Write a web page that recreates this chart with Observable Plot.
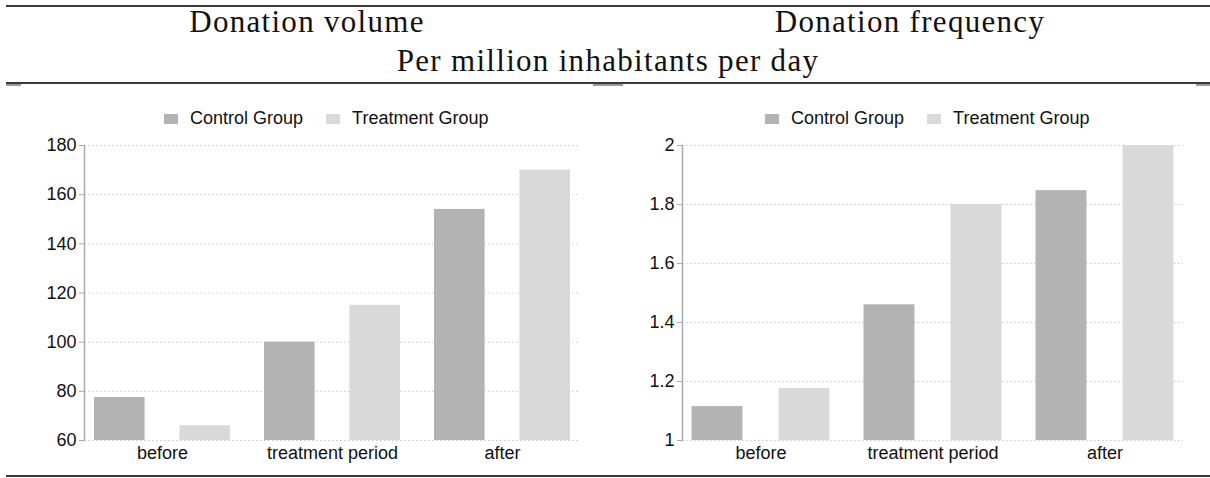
<!DOCTYPE html>
<html><head><meta charset="utf-8">
<script src="https://cdn.jsdelivr.net/npm/d3@7"></script>
<script src="https://cdn.jsdelivr.net/npm/@observablehq/plot@0.6"></script>
<style>
body{margin:0;background:#fff;width:1210px;height:478px;position:relative;overflow:hidden;font-family:"Liberation Sans",Arial,sans-serif;}
.rule{position:absolute;background:#3a3a3a;height:2px;left:6px;right:0}
.trim{position:absolute;background:#9a9a9a;height:2px;top:84px}
.title{position:absolute;font-family:"Liberation Serif","Times New Roman",serif;font-size:31px;letter-spacing:1.3px;color:#111;transform:translateX(-50%);white-space:nowrap;line-height:1}
.panel{position:absolute;top:135px}
.lg{position:absolute;top:102px}
.lg > div{justify-content:flex-start !important;margin-left:0 !important;}
.lg span > svg{margin-right:12px !important;}
.lg span{margin-right:23px !important;}
</style></head><body>
<div class="rule" style="top:5px"></div>
<div class="title" style="left:307px;top:6px">Donation volume</div>
<div class="title" style="left:910px;top:6px">Donation frequency</div>
<div class="title" style="left:608px;top:45px">Per million inhabitants per day</div>
<div class="rule" style="top:82px"></div>
<div class="trim" style="left:6px;width:15px"></div>
<div class="trim" style="left:593px;width:30px"></div>
<div class="trim" style="left:1196px;width:14px"></div>
<div class="lg" id="lg1" style="left:164px"></div>
<div class="lg" id="lg2" style="left:765px"></div>
<div class="panel" id="p1" style="left:0px"></div>
<div class="panel" id="p2" style="left:600px"></div>
<div class="rule" style="top:475px"></div>
<script>
const periods = ["before", "treatment period", "after"];
const groups = ["Control Group", "Treatment Group"];
const volumeControl = [77.5, 100, 154];
const volumeTreatment = [66, 115, 170];
const frequencyControl = [1.115, 1.46, 1.847];
const frequencyTreatment = [1.176, 1.80, 2.0];
const volumeTicks = [60, 80, 100, 120, 140, 160, 180];
const frequencyTicks = [1, 1.2, 1.4, 1.6, 1.8, 2];
const groupColors = ["#b3b3b3", "#d9d9d9"];

function rows(control, treatment) {
  return periods.flatMap((p, i) => [
    {period: p, group: groups[0], value: control[i]},
    {period: p, group: groups[1], value: treatment[i]}
  ]);
}

function chart({data, ticks, width, marginLeft, marginRight, outer, inner}) {
  const base = ticks[0];
  return Plot.plot({
    width, height: 335, marginTop: 10, marginBottom: 30, marginLeft, marginRight,
    style: {fontFamily: '"Liberation Sans", Arial, sans-serif', fontSize: "18px", background: "transparent", color: "#111", overflow: "visible"},
    x: {domain: periods, paddingInner: 0.096, paddingOuter: 0, label: null},
    y: {domain: [ticks[0], ticks[ticks.length - 1]], label: null},
    color: {domain: groups, range: groupColors},
    marks: [
      Plot.gridY(ticks, {stroke: "#c8c8c8", strokeOpacity: 1, strokeDasharray: "1.5,2.5"}),
      Plot.barY(data.filter(d => d.group === groups[0]), {x: "period", y1: () => base, y2: "value", fill: "group", insetLeft: outer, insetRight: inner}),
      Plot.barY(data.filter(d => d.group === groups[1]), {x: "period", y1: () => base, y2: "value", fill: "group", insetLeft: inner, insetRight: outer}),
      Plot.frame({anchor: "left", stroke: "#aaa", strokeWidth: 1.5}),
      Plot.axisY(ticks, {tickSize: 5, tickPadding: 3, stroke: "#aaa", fill: "#111", fontSize: 18, label: null, tickFormat: d => String(d)}),
      Plot.axisX({tickSize: 0, tickPadding: 6, fill: "#111", fontSize: 18, label: null})
    ]
  });
}

const c1 = chart({data: rows(volumeControl, volumeTreatment), ticks: volumeTicks, width: 600, marginLeft: 84, marginRight: 20, outer: 9, inner: 94.4});
const c2 = chart({data: rows(frequencyControl, frequencyTreatment), ticks: frequencyTicks, width: 600, marginLeft: 82, marginRight: 17, outer: 8.5, inner: 95.5});
document.getElementById("p1").appendChild(c1);
document.getElementById("p2").appendChild(c2);
const legOpts = {swatchWidth: 14, swatchHeight: 10, style: {fontFamily: '"Liberation Sans", Arial, sans-serif', fontSize: "18px", color: "#111"}};
document.getElementById("lg1").appendChild(c1.legend("color", legOpts));
document.getElementById("lg2").appendChild(c2.legend("color", legOpts));
</script>
</body></html>
